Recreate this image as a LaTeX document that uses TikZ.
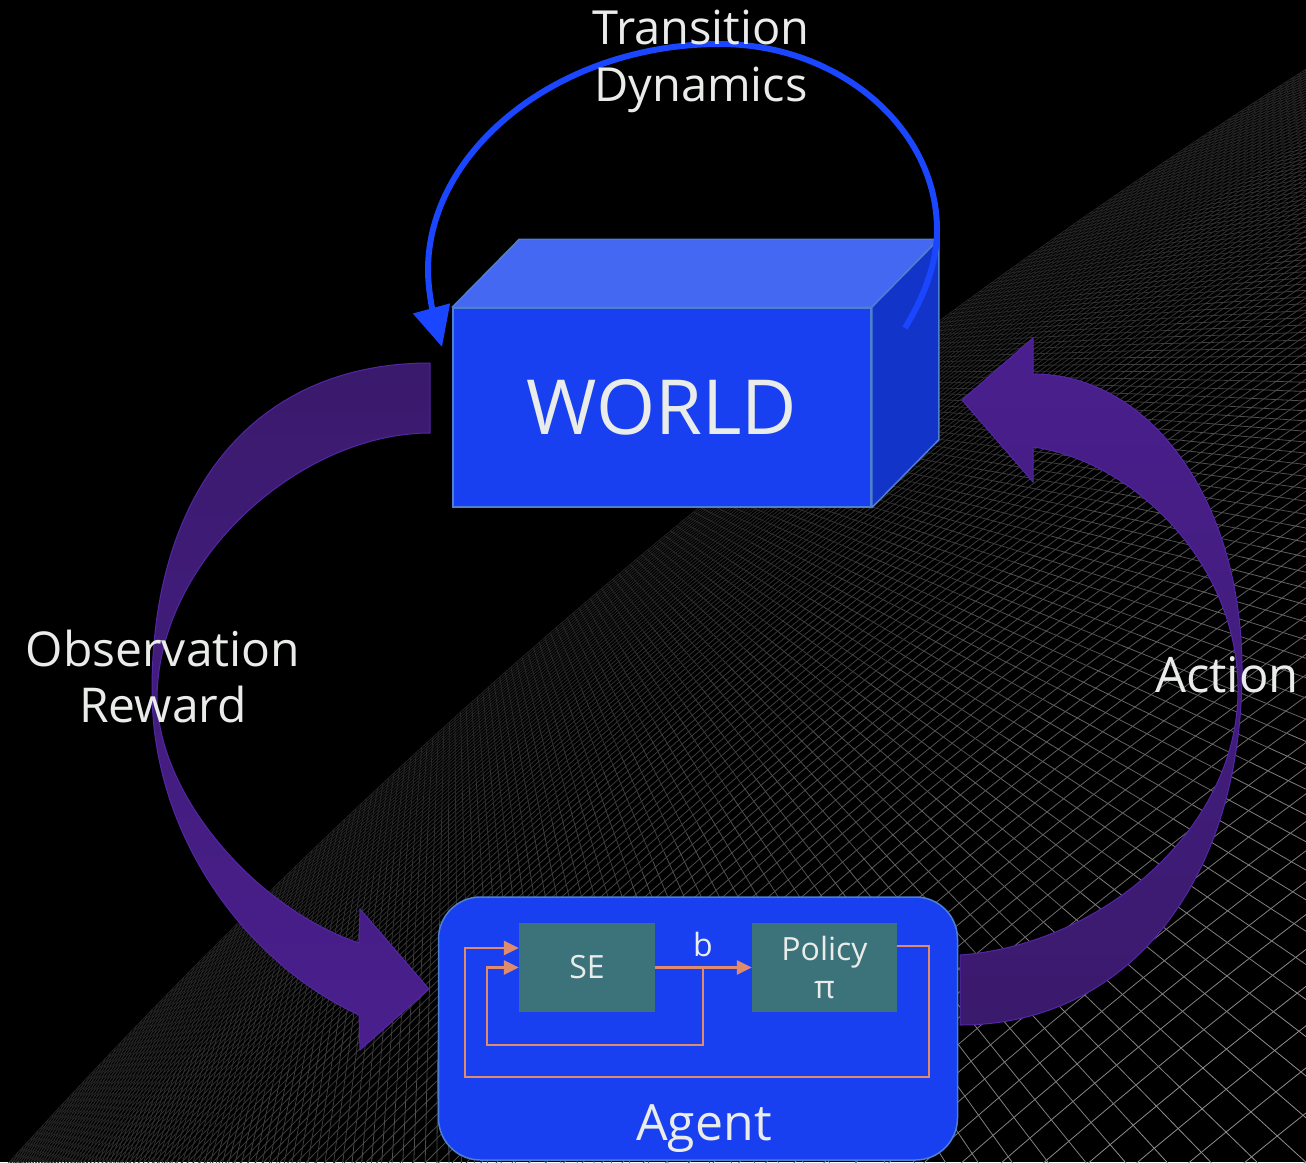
\documentclass[tikz,border=0pt]{standalone}
\usepackage{fontspec}
\setmainfont{Open Sans}
\usetikzlibrary{arrows.meta}
\definecolor{txtc}{HTML}{E9ECE9}
\definecolor{frontc}{HTML}{1840F0}
\definecolor{topc}{HTML}{4468F2}
\definecolor{sidec}{HTML}{1234C8}
\definecolor{edgec}{HTML}{4F7FD2}
\definecolor{arcc}{HTML}{1A46FF}
\definecolor{tealc}{HTML}{3C727A}
\definecolor{orangec}{HTML}{E08C6C}
\definecolor{purpdark}{HTML}{3A1A6C}
\definecolor{purplight}{HTML}{4A1F8E}
\definecolor{purpedge}{HTML}{5326A6}
\begin{document}
\begin{tikzpicture}[x=1pt,y=-1pt,
  declare function={curv(\x)=57*((\x-100)/850)*((\x-100)/850);},
  meshline/.style={line width=0.8pt},
  biglabel/.style={text=txtc, align=center, inner sep=0pt,
    font=\fontsize{48}{56}\selectfont},
  smalllabel/.style={text=txtc, align=center, inner sep=0pt,
    font=\fontsize{32}{38}\selectfont},
  worldfront/.style={draw=edgec, line width=1.5pt, fill=frontc,
    minimum width=418pt, minimum height=199pt, inner sep=0pt, text=txtc,
    font=\fontsize{76}{80}\selectfont},
  boxface/.style={draw=edgec, line width=1.5pt, line join=round},
  agentbox/.style={draw=edgec, line width=1.5pt, fill=frontc,
    rounded corners=42pt, minimum width=519pt, minimum height=263pt},
  innerbox/.style={fill=tealc, inner sep=0pt, minimum height=89pt},
  oline/.style={draw=orangec, line width=2.5pt},
  otip/.style={-{Triangle[length=15pt,width=14pt]}},
  loopbody/.style={draw=purpedge, line width=1pt},
  trans/.style={draw=arcc, line width=6pt, -{Triangle[length=40pt,width=37pt]}}
]
\useasboundingbox (0,0) rectangle (1306,1162);
\fill[black] (0,0) rectangle (1306,1162);

% wire-frame surface receding toward the upper left
\begin{scope}
\clip (0,0) rectangle (1306,1162);
\begin{scope}[x={(0.764pt,0.645pt)}, y={(0.645pt,-0.764pt)}]
  % rows of constant depth
  \foreach \k in {0,...,105} {
    \pgfmathsetmacro\bb{250/(1-\k*0.0075)}
    \pgfmathtruncatemacro\pc{min(56,14+(\bb-250)/800*45)}
    \draw[meshline, draw=white!\pc!black]
      plot[domain=-900:1100, samples=24, smooth, variable=\t]
      (\t,{588+\bb+curv(\t)});
  }
  % lines running toward the vanishing point
  \foreach \u in {-3.5,-3.47,...,3.62} {
    \foreach \ba/\bz in {250/310,310/390,390/490,490/620,620/790,790/1000,1000/1200} {
      \pgfmathsetmacro\da{100+\u*\ba}
      \pgfmathsetmacro\dz{100+\u*\bz}
      \pgfmathtruncatemacro\pc{min(56,14+((\ba+\bz)/2-250)/800*45)}
      \draw[meshline, draw=white!\pc!black]
        (\da,{588+\ba+curv(\da)}) -- (\dz,{588+\bz+curv(\dz)});
    }
  }
\end{scope}
\end{scope}

% observation / reward arrow (world -> agent)
\path[loopbody, top color=purpdark, bottom color=purplight]
  (430,363) .. controls (258,363) and (152,487) .. (152,690)
  .. controls (152,840) and (250,965) .. (359,1015)
  -- (360,1050) -- (429,989) -- (360,909) -- (359,943)
  .. controls (260,910) and (160,800) .. (157,700)
  .. controls (157,560) and (300,433) .. (430,433) -- cycle;

% action arrow (agent -> world)
\path[loopbody, top color=purplight, bottom color=purpdark]
  (960,1025) .. controls (1129,1025) and (1242,880) .. (1242,670)
  .. controls (1242,500) and (1150,374) .. (1033,374)
  -- (1033,338) -- (962,400) -- (1033,482) -- (1033,447)
  .. controls (1130,460) and (1238,560) .. (1238,690)
  .. controls (1238,830) and (1100,945) .. (960,955) -- cycle;

% the world as a box
\node[worldfront] (world) at (662,407.5) {WORLD};
\filldraw[boxface, fill=topc] (world.north west) -- ++(67,-68)
  -- ([shift={(67,-68)}]world.north east) -- (world.north east) -- cycle;
\filldraw[boxface, fill=sidec] (world.north east) -- ++(67,-68)
  -- ([shift={(67,-68)}]world.south east) -- (world.south east) -- cycle;

% transition dynamics loop
\coordinate (tstart) at (905,328);
\coordinate (tend) at (442,347);
\draw[trans] (tstart) .. controls (925,295) and (937,262) .. (937,230)
  .. controls (937,128) and (839,44) .. (720,44)
  .. controls (559,44) and (428,150) .. (428,270)
  .. controls (428,295) and (436,325) .. (tend);

% agent
\node[agentbox] (agent) at (698,1028.5) {};
\node[innerbox, minimum width=136pt] (se) at (587,967.5)
  {\fontsize{32}{38}\selectfont\color{txtc}SE};
\node[innerbox, minimum width=145pt, align=center, text=txtc,
  font=\fontsize{32}{38}\selectfont] (pol) at (824.5,967.5) {Policy\\π};

\coordinate (jn) at (703,967.5);
\coordinate (innerlow) at (487,1045);
\coordinate (outR) at (929,1077);
\coordinate (outL) at (465,1077);
\draw[oline, otip] (se.east) -- (pol.west);
\draw[oline, otip] (jn) |- (innerlow) |- (se.west);
\draw[oline, otip] ([yshift=21.5pt]pol.east) -| (outR) -- (outL)
  |- ([yshift=19.5pt]se.west);
\node[smalllabel] (blabel) at (703,944) {b};

% labels
\node[biglabel, font=\fontsize{47}{57}\selectfont] (tlabel) at (701,61)
  {Transition\\Dynamics};
\node[biglabel] (olabel) at (163,676) {Observation\\Reward};
\node[biglabel, font=\fontsize{49}{56}\selectfont] (alabel) at (1227,675) {Action};
\node[biglabel, font=\fontsize{50}{56}\selectfont] (aglabel) at (704,1128.5) {Agent};
\end{tikzpicture}
\end{document}
